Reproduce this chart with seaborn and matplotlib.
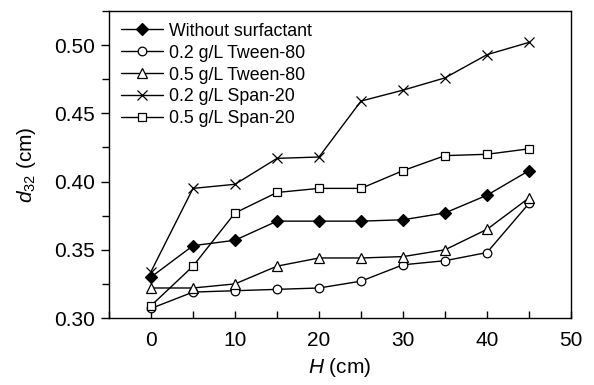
import matplotlib
matplotlib.use("Agg")
import matplotlib.pyplot as plt
import seaborn as sns
import numpy as np
import pandas as pd
from matplotlib.ticker import MultipleLocator

# height above distributor (cm)
H = [0, 5, 10, 15, 20, 25, 30, 35, 40, 45]

without_surf = [0.330, 0.353, 0.357, 0.371, 0.371, 0.371, 0.372, 0.377, 0.390, 0.408]
tween_02 = [0.307, 0.319, 0.320, 0.321, 0.322, 0.327, 0.339, 0.342, 0.348, 0.384]
tween_05 = [0.322, 0.322, 0.325, 0.338, 0.344, 0.344, 0.345, 0.350, 0.365, 0.388]
span_02 = [0.334, 0.395, 0.398, 0.417, 0.418, 0.459, 0.467, 0.476, 0.493, 0.502]
span_05 = [0.309, 0.338, 0.377, 0.392, 0.395, 0.395, 0.408, 0.419, 0.420, 0.424]

labels = ["Without surfactant", "0.2 g/L Tween-80", "0.5 g/L Tween-80",
          "0.2 g/L Span-20", "0.5 g/L Span-20"]

sns.set_style("ticks", {'text.color': 'black', 'axes.labelcolor': 'black',
                        'xtick.color': 'black', 'ytick.color': 'black',
                        'axes.edgecolor': 'black'})
plt.rcParams['font.family'] = ['Liberation Sans', 'DejaVu Sans']
plt.rcParams['mathtext.fontset'] = 'custom'
plt.rcParams['mathtext.it'] = 'Liberation Sans:italic'
plt.rcParams['mathtext.rm'] = 'Liberation Sans'

fig = plt.figure(figsize=(5.94, 3.85), dpi=100)
ax = fig.add_axes([0.1835, 0.174, 0.7778, 0.7974])

series = [without_surf, tween_02, tween_05, span_02, span_05]
styles = [
    dict(marker='D', markersize=6.5, markerfacecolor='black'),
    dict(marker='o', markersize=6.2, markerfacecolor='white'),
    dict(marker='^', markersize=7.2, markerfacecolor='white'),
    dict(marker='x', markersize=7.5, markerfacecolor='none'),
    dict(marker='s', markersize=5.8, markerfacecolor='white'),
]

for vals, lab, st in zip(series, labels, styles):
    df = pd.DataFrame({'H': H, 'd32': vals})
    sns.lineplot(data=df, x='H', y='d32', ax=ax, color='black', linewidth=1,
                 markeredgecolor='black', markeredgewidth=0.9, label=lab, **st)

ax.set_xlim(-5, 50)
ax.set_ylim(0.30, 0.525)
ax.xaxis.set_major_locator(MultipleLocator(10))
ax.xaxis.set_minor_locator(MultipleLocator(5))
ax.yaxis.set_major_locator(MultipleLocator(0.05))
ax.yaxis.set_minor_locator(MultipleLocator(0.025))
ax.yaxis.set_major_formatter(matplotlib.ticker.FormatStrFormatter('%.2f'))

ax.tick_params(axis='x', which='both', direction='in', length=5, width=1, labelsize=15, pad=9)
ax.tick_params(axis='y', which='major', direction='out', length=6, width=1, labelsize=15, pad=4)
ax.tick_params(axis='y', which='minor', direction='out', length=5, width=1)
for sp in ax.spines.values():
    sp.set_visible(True)
    sp.set_linewidth(1)
    sp.set_color('black')

ax.set_xlabel(r'$H$ (cm)', fontsize=15, labelpad=5)
ax.set_ylabel(r'$d_{32}$ (cm)', fontsize=15, labelpad=12)

ax.legend(loc='upper left', frameon=False, fontsize=12.8, handlelength=2.4,
          handletextpad=0.3, labelspacing=0.28, borderaxespad=0.25)

fig.savefig('out.png', dpi=100)
